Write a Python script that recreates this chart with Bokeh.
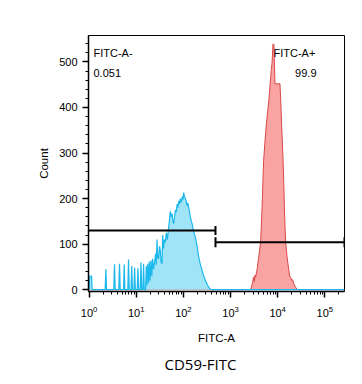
import numpy as np
from bokeh.plotting import figure
from bokeh.models import (FixedTicker, Label, Title, Range1d)
from bokeh.embed import file_html
from bokeh.resources import INLINE

# ---------------- data ----------------
# Blue histogram (control): log10(FITC-A) and counts
blue_log10 = [0.0, 0.011, 0.053, 0.064,
              0.340, 0.355, 0.370,
              0.523, 0.538, 0.553,
              0.630, 0.645, 0.660,
              0.730, 0.745, 0.760,
              0.821, 0.836, 0.851,
              0.889, 0.904, 0.919,
              0.951, 0.966, 0.981,
              1.021, 1.036, 1.051,
              1.085, 1.100, 1.115,
              1.140, 1.155, 1.170,
              1.198, 1.213, 1.228, 1.245, 1.262, 1.277, 1.294, 1.313, 1.330,
              1.347, 1.368, 1.389, 1.411, 1.426, 1.440, 1.457, 1.474, 1.494,
              1.511, 1.528, 1.547, 1.560, 1.579, 1.596, 1.617, 1.638, 1.660,
              1.687, 1.702, 1.723, 1.740, 1.760, 1.777, 1.794, 1.813, 1.830,
              1.851, 1.866, 1.883, 1.904, 1.921, 1.936, 1.957, 1.979, 1.994,
              2.006, 2.021, 2.043, 2.060, 2.079, 2.096, 2.113, 2.132, 2.149,
              2.170, 2.185, 2.213, 2.255, 2.291, 2.326, 2.362, 2.398, 2.432,
              2.468, 2.504, 2.538, 2.574, 2.617, 5.42]
blue_count = [0, 30, 30, 0,
              0, 45, 0,
              0, 56, 0,
              0, 57, 0,
              0, 55, 0,
              0, 66, 0,
              0, 52, 0,
              0, 48, 0,
              0, 47, 0,
              0, 60, 0,
              0, 57, 0,
              0, 52, 10, 57, 15, 62, 20, 64, 30,
              68, 45, 60, 79, 55, 110, 70, 68, 95,
              86, 60, 57, 120, 90, 110, 104, 125, 110,
              137, 150, 172, 160, 167, 150, 145, 160, 175,
              170, 188, 180, 195, 188, 200, 192, 205, 198,
              213, 205, 200, 195, 184, 190, 180, 170, 159,
              150, 145, 130, 115, 95, 71, 55, 42, 30,
              20, 12, 5, 1, 0, 0]

# Red histogram (CD59-FITC stained)
red_log10 = [0.0, 3.426, 3.440, 3.468, 3.489, 3.504, 3.521, 3.532, 3.564,
             3.596, 3.638, 3.670, 3.702, 3.745, 3.777, 3.815, 3.866, 3.883,
             3.900, 3.921, 3.943, 4.049, 4.064, 4.085, 4.113, 4.128, 4.149,
             4.170, 4.202, 4.234, 4.255, 4.277, 4.298, 4.319, 4.347, 4.383,
             4.419, 5.42]
red_count = [0, 0, 5, 15, 28, 18, 32, 27, 45,
             70, 104, 180, 283, 345, 380, 418, 484, 500,
             539, 539, 452, 452, 420, 360, 290, 240, 160,
             104, 70, 45, 30, 27, 20, 22, 12, 5,
             0, 0]

# Gates
gate_names = ["FITC-A-", "FITC-A+"]
gate_pct = ["0.051", "99.9"]
gate_split = 480          # FITC-A boundary between gates
gate_min = 0.97
gate_max = 262144
gate_y = [130, 104]

# Axes
x_decades = [1, 10, 100, 1000, 10000, 100000]
y_ticks = [0, 100, 200, 300, 400, 500]
y_minor = list(range(0, 560, 20))

# ---------------- figure ----------------
FONT = "Liberation Sans"

p = figure(x_axis_type="log", output_backend="svg", toolbar_location=None,
           frame_width=256, frame_height=256,
           min_border_left=88, min_border_right=18, min_border_top=35,
           min_border_bottom=93,
           x_range=Range1d(gate_min, gate_max), y_range=Range1d(-4, 558))
p.background_fill_color = "white"
p.border_fill_color = "white"
p.outline_line_color = "black"
p.outline_line_width = 1
p.grid.visible = False

bx = [10 ** v for v in blue_log10]
rx = [10 ** v for v in red_log10]

p.varea(x=rx, y1=0, y2=red_count, fill_color="#F9A3A3", fill_alpha=1.0)
p.line(rx, red_count, line_color="#D9494B", line_width=1)
p.varea(x=bx, y1=0, y2=blue_count, fill_color="#A0E4F8", fill_alpha=1.0)
p.line(bx, blue_count, line_color="#1DB8EC", line_width=1.2)

# gates
p.line([gate_min, gate_split], [gate_y[0], gate_y[0]], line_color="black", line_width=2)
p.line([gate_split, gate_max], [gate_y[1], gate_y[1]], line_color="black", line_width=2)
p.scatter([gate_split], [gate_y[0]], marker="dash", angle=np.pi / 2, size=9,
          line_color="black", line_width=2)
p.scatter([gate_split, gate_max], [gate_y[1], gate_y[1]], marker="dash",
          angle=np.pi / 2, size=10, line_color="black", line_width=2)

# gate labels
lab_kw = dict(x_units="screen", y_units="screen", text_font=FONT,
              text_font_size="11px", text_color="black", text_baseline="middle")
p.add_layout(Label(x=5, y=239, text=gate_names[0], **lab_kw))
p.add_layout(Label(x=5, y=219, text=gate_pct[0], **lab_kw))
p.add_layout(Label(x=185, y=239, text=gate_names[1], **lab_kw))
p.add_layout(Label(x=228, y=219, text=gate_pct[1], text_align="right", **lab_kw))

# axes
xa = p.xaxis[0]
xa.ticker = FixedTicker(ticks=x_decades,
                        minor_ticks=[m * d for d in [1, 10, 100, 1000, 10000, 100000]
                                     for m in range(2, 10)])
xa.axis_label = "FITC-A"
ya = p.yaxis[0]
ya.ticker = FixedTicker(ticks=y_ticks, minor_ticks=y_minor)
ya.axis_label = "Count"

for ax in (xa, ya):
    ax.axis_line_color = "black"
    ax.axis_line_width = 1.5
    ax.major_tick_line_color = "black"
    ax.minor_tick_line_color = "black"
    ax.major_tick_line_width = 1.5
    ax.minor_tick_line_width = 1
    ax.major_tick_out = 6
    ax.major_tick_in = 0
    ax.minor_tick_out = 3
    ax.minor_tick_in = 0
    ax.major_label_text_font = FONT
    ax.major_label_text_font_size = "11px"
    ax.major_label_text_color = "black"
    ax.axis_label_text_font = FONT
    ax.axis_label_text_font_size = "11.5px"
    ax.axis_label_text_font_style = "normal"
    ax.axis_label_text_color = "black"

xa.major_label_standoff = 8
xa.axis_label_standoff = 12
ya.major_label_standoff = 5
ya.axis_label_standoff = 6

p.add_layout(Title(text="CD59-FITC", align="left", offset=76,
                   text_font="Open Sans", text_font_size="15px",
                   text_font_style="normal", text_color="black"), "below")

open("out.html", "w").write(file_html(p, INLINE))
